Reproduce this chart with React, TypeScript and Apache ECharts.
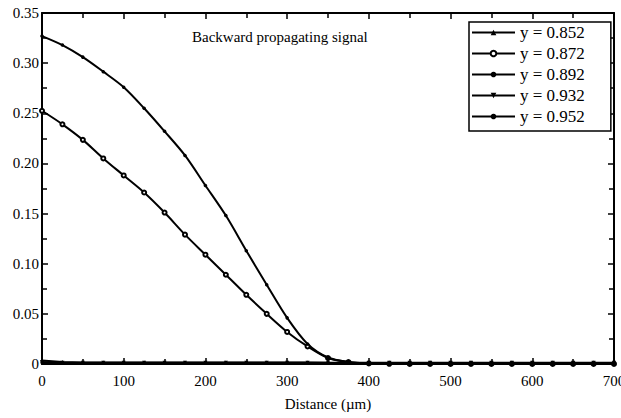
import React, { useEffect, useRef } from "react";
import * as echarts from "echarts";

// Distance (µm) sample positions
const distance = [0, 25, 50, 75, 100, 125, 150, 175, 200, 225, 250, 275, 300, 325, 350, 375, 400, 425, 450, 475, 500, 525, 550, 575, 600, 625, 650, 675, 700];

const seriesNames = ["y = 0.852", "y = 0.872", "y = 0.892", "y = 0.932", "y = 0.952"];

// Backward propagating signal values
const s852 = [0.0035, 0.002, 0.0015, 0.0015, 0.0015, 0.0015, 0.0015, 0.0015, 0.0015, 0.0015, 0.0015, 0.0015, 0.0015, 0.0015, 0.0012, 0.001, 0.001, 0.001, 0.001, 0.001, 0.001, 0.001, 0.001, 0.001, 0.001, 0.001, 0.001, 0.001, 0.001];
const s872 = [0.2525, 0.239, 0.2235, 0.205, 0.188, 0.171, 0.151, 0.129, 0.109, 0.089, 0.069, 0.05, 0.032, 0.0175, 0.006, 0.002, 0.0005, 0.0002, 0.0001, 0.0001, 0.0001, 0.0001, 0.0001, 0.0001, 0.0001, 0.0001, 0.0001, 0.0001, 0.0001];
const s892 = [0.001, 0.001, 0.001, 0.001, 0.001, 0.001, 0.001, 0.001, 0.001, 0.001, 0.001, 0.001, 0.001, 0.001, 0.001, 0.001, 0.001, 0.001, 0.001, 0.001, 0.001, 0.001, 0.001, 0.001, 0.001, 0.001, 0.001, 0.001, 0.001];
const s932 = [0.002, 0.0012, 0.0012, 0.0012, 0.0012, 0.0012, 0.0012, 0.0012, 0.0012, 0.0012, 0.0012, 0.0012, 0.0012, 0.0012, 0.0012, 0.0012, 0.0012, 0.0012, 0.0012, 0.0012, 0.0012, 0.0012, 0.0012, 0.0012, 0.0012, 0.0012, 0.0012, 0.0012, 0.0012];
const s952 = [0.327, 0.318, 0.306, 0.2915, 0.276, 0.255, 0.232, 0.208, 0.178, 0.148, 0.113, 0.079, 0.046, 0.02, 0.0065, 0.002, 0.0005, 0.0003, 0.0002, 0.0002, 0.0001, 0.0001, 0.0001, 0.0001, 0.0001, 0.0001, 0.0001, 0.0001, 0.0001];

const xTicks = { min: 0, max: 700, interval: 100 };
const yTicks = { min: 0, max: 0.35, interval: 0.05 };

export default function App() {
  const ref = useRef<HTMLDivElement>(null);

  useEffect(() => {
    const chart = echarts.init(ref.current!, null, { renderer: "svg" });
    const font = "Liberation Serif";
    const pairs = (vals: number[]) => distance.map((d, i) => [d, vals[i]]);

    const axisLine = { show: true, onZero: false, lineStyle: { color: "#000", width: 2 } };
    const axisTick = { show: true, inside: true, length: 6, lineStyle: { color: "#000", width: 1.5 } };
    const minorTick = { show: true, splitNumber: 2, length: 5, lineStyle: { color: "#000", width: 1.5 } };

    const xBase = {
      type: "value",
      ...xTicks,
      axisLine,
      axisTick,
      minorTick,
      splitLine: { show: false },
      minorSplitLine: { show: false },
    };
    const yBase = {
      type: "value",
      ...yTicks,
      axisLine,
      axisTick,
      minorTick,
      splitLine: { show: false },
      minorSplitLine: { show: false },
    };

    const lineSeries = (name: string, vals: number[], symbol: string, size: number, extra: any = {}) => ({
      name,
      type: "line",
      data: pairs(vals),
      symbol,
      symbolSize: size,
      showAllSymbol: true,
      lineStyle: { color: "#000", width: 2 },
      itemStyle: { color: "#000" },
      ...extra,
    });

    chart.setOption({
      animation: false,
      backgroundColor: "#fff",
      grid: { left: 42, right: 7, top: 13, bottom: 54, containLabel: false, outerBoundsMode: "none" },
      xAxis: [
        {
          ...xBase,
          position: "bottom",
          axisLabel: { color: "#000", fontFamily: font, fontSize: 15, margin: 9 },
          name: "Distance (µm)",
          nameLocation: "middle",
          nameGap: 32,
          nameTextStyle: { color: "#000", fontFamily: font, fontSize: 15 },
        },
        { ...xBase, position: "top", axisLabel: { show: false } },
      ],
      yAxis: [
        {
          ...yBase,
          position: "left",
          axisLabel: {
            color: "#000",
            fontFamily: font,
            fontSize: 15,
            margin: 3,
            formatter: (v: number) => (v === 0 ? "0" : v.toFixed(2)),
          },
        },
        { ...yBase, position: "right", axisLabel: { show: false } },
      ],
      legend: {
        orient: "vertical",
        left: 469,
        top: 22,
        itemWidth: 43,
        itemHeight: 7,
        itemGap: 4,
        padding: [2, 26, 6, 2],
        borderColor: "#000",
        borderWidth: 1.5,
        backgroundColor: "#fff",
        textStyle: { color: "#000", fontFamily: font, fontSize: 17 },
        data: seriesNames,
        z: 10,
      },
      graphic: [
        {
          type: "text",
          left: 192,
          top: 29,
          style: {
            text: "Backward propagating signal",
            fontFamily: font,
            fontSize: 15,
            fill: "#000",
          },
        },
      ],
      series: [
        lineSeries(seriesNames[0], s852, "triangle", 4),
        lineSeries(seriesNames[1], s872, "emptyCircle", 4, { smooth: 0.3 }),
        lineSeries(seriesNames[2], s892, "circle", 3),
        lineSeries(seriesNames[3], s932, "triangle", 4, { symbolRotate: 180 }),
        lineSeries(seriesNames[4], s952, "circle", 3.5, { smooth: 0.3 }),
      ],
    });
    return () => chart.dispose();
  }, []);

  return (
    <div
      ref={ref}
      style={{ position: "absolute", left: 0, top: 0, width: 621, height: 418, background: "#fff" }}
    />
  );
}
